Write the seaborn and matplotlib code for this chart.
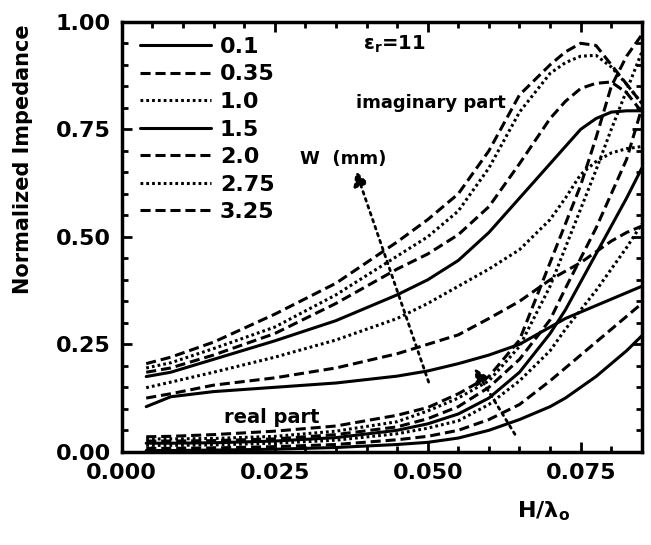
import pandas as pd
import matplotlib
matplotlib.use('Agg')
import matplotlib.pyplot as plt
import seaborn as sns
from matplotlib.ticker import MultipleLocator, FormatStrFormatter

# H / lambda_o sample points (shared by every curve)
h_grid = [0.004, 0.008, 0.015, 0.025, 0.035, 0.045, 0.05, 0.055, 0.06,
          0.065, 0.07, 0.0725, 0.075, 0.0775, 0.08, 0.0825, 0.085]

w_labels = ['0.1', '0.35', '1.0', '1.5', '2.0', '2.75', '3.25']

# imaginary part, one list per strip width W (mm)
imag_01 = [0.105, 0.128, 0.140, 0.150, 0.160, 0.176, 0.188, 0.205, 0.225,
           0.250, 0.290, 0.310, 0.325, 0.340, 0.355, 0.370, 0.385]
imag_035 = [0.125, 0.135, 0.155, 0.172, 0.195, 0.228, 0.250, 0.272, 0.310,
            0.350, 0.400, 0.420, 0.440, 0.465, 0.490, 0.510, 0.525]
imag_10 = [0.149, 0.162, 0.185, 0.220, 0.260, 0.310, 0.345, 0.385, 0.425,
           0.470, 0.540, 0.590, 0.645, 0.675, 0.695, 0.705, 0.710]
imag_15 = [0.175, 0.185, 0.215, 0.258, 0.305, 0.365, 0.400, 0.445, 0.510,
           0.590, 0.670, 0.710, 0.750, 0.775, 0.790, 0.793, 0.793]
imag_20 = [0.185, 0.195, 0.225, 0.275, 0.345, 0.425, 0.460, 0.505, 0.570,
           0.670, 0.775, 0.815, 0.845, 0.857, 0.860, 0.835, 0.790]
imag_275 = [0.195, 0.207, 0.240, 0.290, 0.365, 0.455, 0.500, 0.560, 0.660,
            0.790, 0.880, 0.905, 0.920, 0.922, 0.895, 0.855, 0.810]
imag_325 = [0.205, 0.220, 0.255, 0.320, 0.392, 0.488, 0.540, 0.600, 0.700,
            0.830, 0.900, 0.930, 0.950, 0.945, 0.900, 0.855, 0.810]

# real part
real_01 = [0.003, 0.003, 0.004, 0.006, 0.010, 0.017, 0.022, 0.032, 0.050,
           0.075, 0.105, 0.125, 0.150, 0.175, 0.205, 0.235, 0.270]
real_035 = [0.008, 0.008, 0.009, 0.012, 0.017, 0.028, 0.036, 0.050, 0.075,
            0.110, 0.165, 0.195, 0.225, 0.255, 0.285, 0.315, 0.345]
real_10 = [0.015, 0.015, 0.016, 0.020, 0.027, 0.042, 0.055, 0.072, 0.110,
           0.165, 0.235, 0.285, 0.330, 0.375, 0.425, 0.475, 0.530]
real_15 = [0.020, 0.020, 0.021, 0.025, 0.033, 0.050, 0.065, 0.088, 0.125,
           0.185, 0.275, 0.330, 0.395, 0.460, 0.525, 0.590, 0.660]
real_20 = [0.025, 0.025, 0.026, 0.030, 0.040, 0.058, 0.077, 0.105, 0.150,
           0.215, 0.307, 0.380, 0.450, 0.520, 0.600, 0.680, 0.800]
real_275 = [0.030, 0.030, 0.031, 0.036, 0.048, 0.070, 0.095, 0.125, 0.165,
            0.245, 0.385, 0.475, 0.565, 0.655, 0.750, 0.840, 0.930]
real_325 = [0.035, 0.036, 0.040, 0.048, 0.060, 0.085, 0.103, 0.135, 0.175,
            0.260, 0.440, 0.530, 0.620, 0.730, 0.850, 0.920, 0.970]

imag_all = [imag_01, imag_035, imag_10, imag_15, imag_20, imag_275, imag_325]
real_all = [real_01, real_035, real_10, real_15, real_20, real_275, real_325]

rows = []
for w, im, re in zip(w_labels, imag_all, real_all):
    for h, a, b in zip(h_grid, im, re):
        rows.append({'W': w, 'H': h, 'imag': a, 'real': b})
df = pd.DataFrame(rows)

# solid / dashed / dotted cycle as in the original figure
solid, dashed, dotted = '', (3.3, 1.6), (0.9, 1.0)
dash_map = {'0.1': solid, '0.35': dashed, '1.0': dotted, '1.5': solid,
            '2.0': dashed, '2.75': dotted, '3.25': dashed}

sns.set_style('ticks')
plt.rcParams['font.family'] = ['DejaVu Sans']
plt.rcParams['font.weight'] = 'bold'
plt.rcParams['mathtext.default'] = 'bf'
for key in ['text.color', 'axes.labelcolor', 'xtick.color', 'ytick.color',
            'axes.edgecolor']:
    plt.rcParams[key] = 'black'

fig = plt.figure(figsize=(6.51, 5.45), dpi=100)
ax = fig.add_axes([0.187, 0.171, 0.799, 0.789])

sns.lineplot(data=df, x='H', y='imag', style='W', style_order=w_labels,
             dashes=dash_map, color='black', linewidth=2.2, ax=ax)
sns.lineplot(data=df, x='H', y='real', style='W', style_order=w_labels,
             dashes=dash_map, color='black', linewidth=2.2, ax=ax, legend=False)

handles, labels = ax.get_legend_handles_labels()
keep = [(h, l) for h, l in zip(handles, labels) if l in w_labels]
ax.legend([k[0] for k in keep], [k[1] for k in keep], loc='upper left',
          bbox_to_anchor=(0.035, 0.965), frameon=False, fontsize=16,
          handlelength=3.2, handletextpad=0.4, labelspacing=0.34,
          borderpad=0, borderaxespad=0)

ax.set_xlim(0, 0.085)
ax.set_ylim(0, 1.0)
ax.xaxis.set_major_locator(MultipleLocator(0.025))
ax.xaxis.set_minor_locator(MultipleLocator(0.005))
ax.yaxis.set_major_locator(MultipleLocator(0.25))
ax.yaxis.set_minor_locator(MultipleLocator(0.05))
ax.xaxis.set_major_formatter(FormatStrFormatter('%.3f'))
ax.yaxis.set_major_formatter(FormatStrFormatter('%.2f'))
ax.tick_params(which='both', direction='in', top=True, right=True,
               width=2, labelsize=16, pad=8)
ax.tick_params(which='major', length=7)
ax.tick_params(which='minor', length=4)
for s in ax.spines.values():
    s.set_linewidth(2.5)

ax.set_ylabel('Normalized Impedance', fontsize=15, fontweight='bold')
ax.yaxis.set_label_coords(-0.17, 0.68)
ax.set_xlabel(r'H/$\lambda_o$', fontsize=16, fontweight='bold')
ax.xaxis.set_label_coords(0.81, -0.11)

ax.text(0.0395, 0.935, r'$\varepsilon_r$=11', fontsize=14, fontweight='bold')
ax.text(0.0505, 0.812, 'imaginary part', fontsize=13, fontweight='bold',
        ha='center', va='center')
ax.text(0.0291, 0.68, 'W  (mm)', fontsize=13, fontweight='bold', va='center')
ax.text(0.0245, 0.08, 'real part', fontsize=14, fontweight='bold',
        ha='center', va='center')

arrow = dict(arrowstyle='-|>', linestyle=':', lw=2, color='black',
             mutation_scale=22)
ax.annotate('', xy=(0.0381, 0.66), xytext=(0.0503, 0.156), arrowprops=arrow)
ax.annotate('', xy=(0.0574, 0.20), xytext=(0.0645, 0.035), arrowprops=arrow)

fig.savefig('out.png', dpi=100)
